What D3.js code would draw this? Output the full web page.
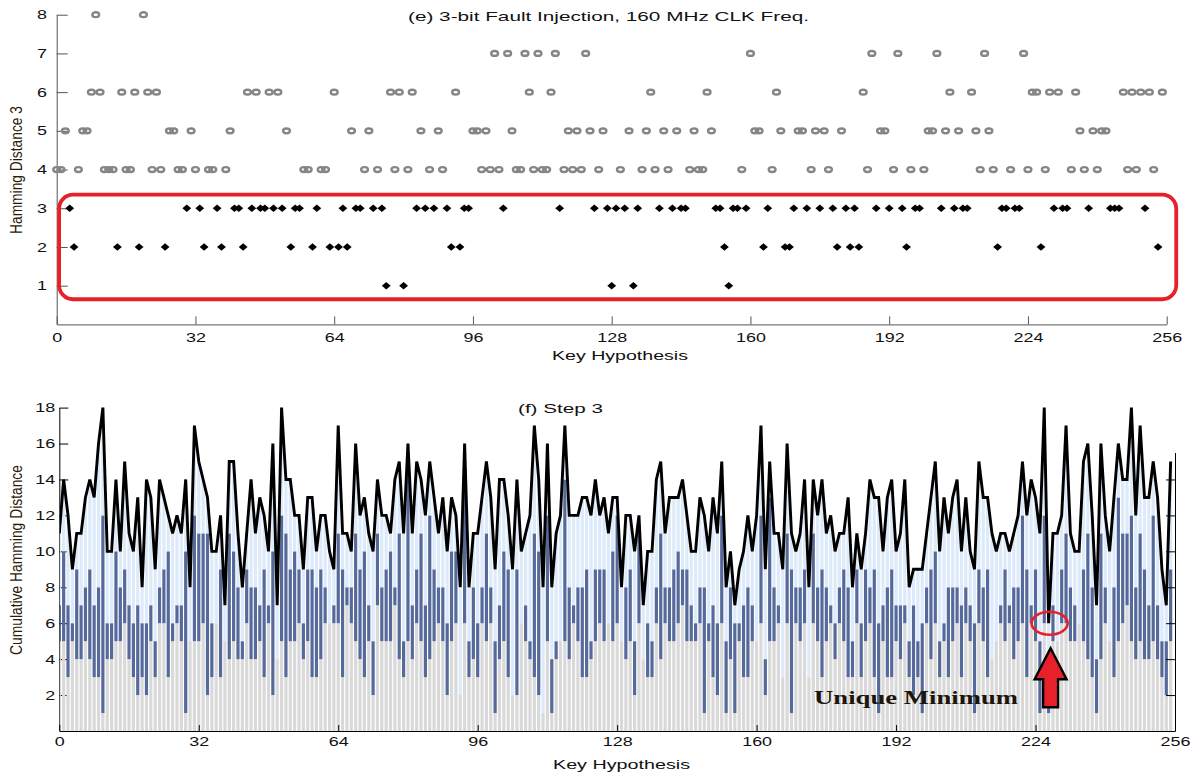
<!DOCTYPE html>
<html>
<head>
<meta charset="utf-8">
<script src="https://cdn.jsdelivr.net/npm/d3@7"></script>
<style>
  body { margin: 0; background: #fff; }
  text { font-family: "Liberation Sans", Arial, sans-serif; }
  text.serif { font-family: "Liberation Serif", "Times New Roman", serif; font-weight: bold; }
</style>
</head>
<body>
<svg id="chart" width="1192" height="776"></svg>
<script>
// ---- data ----
// (e) hamming distance of step 3, one value per key hypothesis 0..255
const hd3 = [
  4,4,5,3,2,4,5,5,6,8, 6,4,4,4,2,6,4,4,6,2, 8,6,4,6,4,2,5,5,4,4,
  3,5,4,3,2,4,4,3,2,4, 5,3,3,2,6,3,6,3,3,6, 3,6,3,5,2,3,3,4,4,2,
  3,4,4,2,6,2,3,
  2,5,3,3,4,5,3,4,3,1, 6,4,6,1,4,6,3,5,3,4, 3,5,4,3,2,6,2,3,3,5,
  5,4,5,4,7,4,3,7,5,4, 4,7,6,4,7,4,4,6,7,3, 4,5,4,5,4,7,5,3,4,5,
  3,1,3,4,
  3,5,1,3,4,5,6,4,3,5, 4,3,5,3,3,4,5,4,4,6, 5,3,3,2,1,3,3,4,3,7,
  5,5,2,3,4,6,5,2,2,3, 5,5,3,4,5,3,5,4,3,2, 5,3,2,3,2,6,4,7,3,5,
  5,3,4,
  7,3,2,4,3,3,4,5,5,7, 3,5,6,3,5,3,3,6,5,4, 7,5,4,2,3,3,4,3,3,7,
  4,6,6,2,4,6,3,6,3,3, 4,6,5,4,3,5,4,5,5,3, 3,3,6,4,6,4,6,3,6,4,
  2,6
];

// (f) step 1 distance (grey part of each bar)
const step1 = [
  5,5,3,5,4,4,5,4,3,3,1,4,
  4,5,5,6,4,3,2,3,2,5, 3,6,6,3,5,6,5,1,7,5, 5,6,2,3,6,3,5,4,5,4,
  4,6,4,4,5,3,6,2,7,5, 3,5,5,6,4,5,3,3,4,6, 6,6,
  6,
  3,7,6,5,4,3,5,2,7,5, 5,5,7,4,3,5,4,6,5,3, 4,5,6,5,2,5,6,5,6,3,
  4,3,6,5,6,1,4,5,3,5, 2,6,5,4,3,2,3,5,1,4, 6,5,4,6,5,3,3,4,5,6,
  5,6,5,6,
  6,4,5,2,6,4,3,3,6,4, 6,5,5,6,7,5,5,5,6,1, 5,3,2,6,1,4,1,5,3,3,
  5,5,6,2,5,5,6,4,6,1, 6,5,6,3,6,5,3,5,6,4, 6,5,3,3,6,3,5,6,3,1,
  5,3,3,5,
  4,6,3,2,3,1,6,4,6,3, 5,3,5,6,3,6,5,1,6,5, 3,4,5,6,5,6,4,5,6,3,
  6,5,1,6,1,5,6,6,6,5, 5,6,5,4,3,1,4,6,5,3, 5,6,7,5,4,5,4,4,5,4,
  3,2,5
];

// (f) cumulative distance after step 3 (black line)
const total = [
  11,14,12,9,11,11,13,14,13,16, 18,10,10,14,10,15,11,10,13,8,
  14,13,9,14,13,12,11,12,11,14, 8,17,15,14,13,10,10,12,7,15,
  15,11,8,11,14,11,13,12,10,16, 7,18,14,14,12,12,9,13,13,10,
  12,12,10,9,17,
  11,11,10,16,12,13,11,10,14,12, 12,11,14,15,11,16,11,15,14,12,
  15,13,11,13,10,13,12,8,16,8, 11,11,13,15,13,9,14,14,12,9,
  14,10,11,12,17,14,8,16,8,11, 12,17,12,12,12,13,13,12,14,12,
  13,11,13,13,
  8,12,12,10,12,7,10,10,14,15, 11,13,13,13,14,12,10,10,13,12,
  10,13,11,15,8,10,7,9,10,12, 10,12,17,9,15,11,11,9,16,11,
  10,11,14,8,14,12,14,11,12,10, 11,11,13,8,11,9,11,14,13,13,
  10,13,14,
  10,11,14,8,9,9,9,11,13,15, 10,13,11,13,14,10,13,10,9,15,
  13,13,11,10,11,11,10,11,12,15, 12,14,13,11,18,6,11,11,12,17,
  11,10,10,15,16,12,7,16,12,10, 13,16,14,14,18,12,17,13,13,15,
  13,9,7,15
];

const keys = d3.range(256);
const xTickVals = [0, 32, 64, 96, 128, 160, 192, 224, 256];
const yTickTop = [1, 2, 3, 4, 5, 6, 7, 8];
const yTickBottom = [2, 4, 6, 8, 10, 12, 14, 16, 18];
const yTickRight = [2, 4, 6, 8, 10, 12, 14];

const svg = d3.select("#chart");
const stretch = "scale(1.38,1)";   // the picture is stretched sideways

// ---------- top panel ----------
const xTop = d3.scaleLinear().domain([0, 256]).range([56.7, 1166.7]);
const yTop = d3.scaleLinear().domain([0, 8]).range([324.4, 14.7]);

const topPanel = svg.append("g");

topPanel.append("g")
    .attr("transform", "translate(0," + yTop(0) + ")")
    .call(d3.axisBottom(xTop).tickValues(xTickVals).tickSize(-8).tickSizeOuter(0).tickPadding(8))
    .call(g => g.selectAll("path,line").attr("stroke", "#555"))
    .call(g => g.selectAll("text").attr("font-size", 13).attr("fill", "#111").attr("transform", stretch));

topPanel.append("g")
    .attr("transform", "translate(" + xTop(0) + ",0)")
    .call(d3.axisLeft(yTop).tickValues(yTickTop).tickSize(-11).tickSizeOuter(0).tickPadding(7))
    .call(g => g.selectAll("path,line").attr("stroke", "#555"))
    .call(g => g.selectAll("text").attr("font-size", 13).attr("fill", "#111").attr("transform", stretch));

// red frame round the low distances
topPanel.append("rect")
    .attr("x", xTop(0.55)).attr("y", yTop(3.35))
    .attr("width", xTop(258.2) - xTop(0.55))
    .attr("height", yTop(0.65) - yTop(3.35))
    .attr("rx", 14).attr("ry", 14)
    .attr("fill", "none").attr("stroke", "#e8202a").attr("stroke-width", 3.8);

// grey rings for distance > 3
topPanel.append("g").selectAll("ellipse")
    .data(keys.filter(k => hd3[k] > 3))
    .join("ellipse")
    .attr("cx", k => xTop(k)).attr("cy", k => yTop(hd3[k]))
    .attr("rx", 3.4).attr("ry", 2.4)
    .attr("fill", "none").attr("stroke", "#858585").attr("stroke-width", 2.4);

// black diamonds for distance <= 3
topPanel.append("g").selectAll("path")
    .data(keys.filter(k => hd3[k] <= 3))
    .join("path")
    .attr("d", "M0,-3.7L4.4,0L0,3.7L-4.4,0Z")
    .attr("transform", k => "translate(" + xTop(k) + "," + yTop(hd3[k]) + ")")
    .attr("fill", "#000");

topPanel.append("text")
    .attr("x", 408).attr("y", 21)
    .attr("font-size", 13.5).attr("fill", "#111")
    .attr("textLength", 401).attr("lengthAdjust", "spacingAndGlyphs")
    .text("(e) 3-bit Fault Injection, 160 MHz CLK Freq.");

topPanel.append("text")
    .attr("x", 552).attr("y", 360)
    .attr("font-size", 13.5).attr("fill", "#111")
    .attr("textLength", 136).attr("lengthAdjust", "spacingAndGlyphs")
    .text("Key Hypothesis");

topPanel.append("text")
    .attr("transform", "translate(22,170) scale(1.3,1) rotate(-90)")
    .attr("text-anchor", "middle")
    .attr("font-size", 12).attr("fill", "#2a1a08")
    .attr("textLength", 128).attr("lengthAdjust", "spacingAndGlyphs")
    .text("Hamming Distance 3");

// ---------- bottom panel ----------
const xBot = d3.scaleLinear().domain([0, 256]).range([59.3, 1175]);
const yBot = d3.scaleLinear().domain([0, 18]).range([731, 407.6]);
const barW = 3.2;

const botPanel = svg.append("g");

// y axis first so its ticks sit behind the bars
botPanel.append("g")
    .attr("transform", "translate(" + xBot(0) + ",0)")
    .call(d3.axisLeft(yBot).tickValues(yTickBottom).tickSize(-9).tickSizeOuter(0).tickPadding(3))
    .call(g => g.selectAll("path,line").attr("stroke", "#000"))
    .call(g => g.selectAll("text").attr("font-size", 13).attr("fill", "#111").attr("transform", stretch));

svg.append("defs").append("clipPath").attr("id", "plotClip")
    .append("rect")
    .attr("x", xBot(0) + 0.6).attr("y", yBot(18) - 5)
    .attr("width", xBot(256) - xBot(0) - 0.6).attr("height", yBot(0) - yBot(18) + 5);

const bars = botPanel.append("g").attr("clip-path", "url(#plotClip)");

// stacked parts: step 1 (grey), step 2 (dark blue), step 3 (light blue, = panel e)
const stack = keys.map(k => {
    const upper = Math.max(total[k] - hd3[k], 0);
    const base = Math.min(step1[k], upper);
    return {k: k, s1: base, s2: upper, s3: total[k]};
});

bars.selectAll("rect.s1").data(stack).join("rect").attr("class", "s1")
    .attr("x", d => xBot(d.k) - barW / 2).attr("width", barW)
    .attr("y", d => yBot(d.s1)).attr("height", d => yBot(0) - yBot(d.s1))
    .attr("fill", "#d9d9d9");

bars.selectAll("rect.s2").data(stack).join("rect").attr("class", "s2")
    .attr("x", d => xBot(d.k) - barW / 2).attr("width", barW)
    .attr("y", d => yBot(d.s2)).attr("height", d => yBot(d.s1) - yBot(d.s2))
    .attr("fill", "#55699a");

bars.selectAll("rect.s3").data(stack).join("rect").attr("class", "s3")
    .attr("x", d => xBot(d.k) - barW / 2).attr("width", barW)
    .attr("y", d => yBot(d.s3)).attr("height", d => yBot(d.s2) - yBot(d.s3))
    .attr("fill", "#ddeafa");

bars.append("path")
    .datum(keys)
    .attr("d", d3.line().x(k => xBot(k)).y(k => yBot(total[k])))
    .attr("fill", "none").attr("stroke", "#000").attr("stroke-width", 2.9)
    .attr("stroke-linejoin", "miter").attr("stroke-miterlimit", 3);

botPanel.append("g")
    .attr("transform", "translate(0," + yBot(0) + ")")
    .call(d3.axisBottom(xBot).tickValues(xTickVals).tickSize(-6).tickSizeOuter(0).tickPadding(6))
    .call(g => g.selectAll("path,line").attr("stroke", "#000"))
    .call(g => g.selectAll("text").attr("font-size", 13).attr("fill", "#111").attr("transform", stretch));

// short right-hand axis
const yRight = d3.scaleLinear().domain([0, 15.5]).range([yBot(0), yBot(15.5)]);
botPanel.append("g")
    .attr("transform", "translate(" + xBot(256) + ",0)")
    .call(d3.axisLeft(yRight).tickValues(yTickRight).tickSize(9).tickSizeOuter(0).tickFormat(""))
    .call(g => g.selectAll("path,line").attr("stroke", "#000"));

botPanel.append("text")
    .attr("x", 518).attr("y", 413)
    .attr("font-size", 13.5).attr("fill", "#111")
    .attr("textLength", 85).attr("lengthAdjust", "spacingAndGlyphs")
    .text("(f) Step 3");

botPanel.append("text")
    .attr("x", 553).attr("y", 769)
    .attr("font-size", 13.5).attr("fill", "#111")
    .attr("textLength", 137).attr("lengthAdjust", "spacingAndGlyphs")
    .text("Key Hypothesis");

botPanel.append("text")
    .attr("transform", "translate(22,560) scale(1.3,1) rotate(-90)")
    .attr("text-anchor", "middle")
    .attr("font-size", 12).attr("fill", "#2a1a08")
    .attr("textLength", 190).attr("lengthAdjust", "spacingAndGlyphs")
    .text("Cumulative Hamming Distance");

// unique minimum annotation
const minKey = d3.minIndex(total);
const mx = xBot(minKey), my = yBot(total[minKey]);

botPanel.append("ellipse")
    .attr("cx", mx + 1).attr("cy", my)
    .attr("rx", 18).attr("ry", 11.5)
    .attr("fill", "none").attr("stroke", "#e8202a").attr("stroke-width", 2.6);

botPanel.append("path")
    .attr("d", d3.line()([
        [mx + 2, my + 25], [mx + 18, my + 56], [mx + 9.5, my + 56], [mx + 9.5, my + 84],
        [mx - 5.5, my + 84], [mx - 5.5, my + 56], [mx - 14, my + 56]
    ]) + "Z")
    .attr("fill", "#e8202a").attr("stroke", "#000").attr("stroke-width", 2.4)
    .attr("stroke-linejoin", "miter");

botPanel.append("text")
    .attr("class", "serif")
    .attr("x", 814).attr("y", 704)
    .attr("font-size", 19).attr("fill", "#1e150a")
    .attr("textLength", 204).attr("lengthAdjust", "spacingAndGlyphs")
    .text("Unique Minimum");
</script>
</body>
</html>
